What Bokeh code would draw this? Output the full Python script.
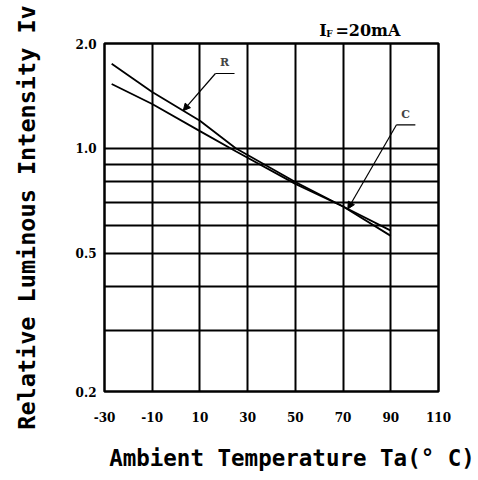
import numpy as np
from bokeh.plotting import figure
from bokeh.models import (Range1d, FixedTicker, Label, Arrow, NormalHead,
                          LinearAxis)
from bokeh.embed import file_html
from bokeh.resources import INLINE

# ---- data ----
temps = [-27, -10, 10, 25, 50, 70, 90]
iv_R = [1.75, 1.45, 1.20, 1.00, 0.80, 0.68, 0.56]
iv_C = [1.53, 1.34, 1.12, 0.98, 0.79, 0.68, 0.58]

x_ticks = [-30, -10, 10, 30, 50, 70, 90, 110]
x_tick_labels = ["-30", "-10", "10", "30", "50", "70", "90", "110"]
y_ticks = [0.2, 0.5, 1.0, 2.0]
y_tick_labels = ["0.2", "0.5", "1.0", "2.0"]
y_grid = [0.3, 0.4, 0.5, 0.6, 0.7, 0.8, 0.9, 1.0]
x_grid = [-10, 10, 30, 50, 70, 90]

x_title = "Ambient Temperature Ta(° C)"
y_title = "Relative Luminous Intensity Iv"
cond_main = ["I", "=20mA"]
cond_sub = "F"

R_point_temp = 3
C_point_temp = 72

FONT = "DejaVu Sans Mono"
TICKFONT = "DejaVu Serif"

p = figure(width=478, height=480, title=None,
           x_range=Range1d(-30, 110), y_range=Range1d(0.2, 2.0),
           y_axis_type="log", output_backend="svg", toolbar_location=None,
           min_border_left=104, min_border_right=40,
           min_border_top=43, min_border_bottom=89)
p.background_fill_color = "white"
p.border_fill_color = "white"
p.outline_line_color = "black"
p.outline_line_width = 2.5


def style(ax, font, size, standoff):
    ax.axis_line_color = None
    ax.major_tick_line_color = None
    ax.minor_tick_line_color = None
    ax.major_tick_out = 0
    ax.major_tick_in = 0
    ax.major_label_text_font = font
    ax.major_label_text_font_style = "bold"
    ax.major_label_text_font_size = size
    ax.major_label_text_color = "black"
    ax.major_label_standoff = standoff


style(p.xaxis[0], TICKFONT, "12px", 20)
p.xaxis[0].ticker = FixedTicker(ticks=x_ticks)
p.xaxis[0].major_label_overrides = dict(zip(x_ticks, x_tick_labels))

style(p.yaxis[0], TICKFONT, "12px", 8)
p.yaxis[0].ticker = FixedTicker(ticks=y_ticks)
p.yaxis[0].major_label_overrides = dict(zip(y_ticks, y_tick_labels))
p.yaxis[0].axis_label = y_title
p.yaxis[0].axis_label_text_font = FONT
p.yaxis[0].axis_label_text_font_style = "bold"
p.yaxis[0].axis_label_text_font_size = "23.5px"
p.yaxis[0].axis_label_text_color = "black"
p.yaxis[0].axis_label_standoff = 32

# x-axis title as a single-tick axis so it sits where the original has it
x_title_pos = 48.6
xt = LinearAxis(ticker=FixedTicker(ticks=[x_title_pos]),
                major_label_overrides={x_title_pos: x_title})
style(xt, FONT, "22.5px", 20)
p.add_layout(xt, "below")

# test condition "I_F = 20mA" above the frame
sub_pos = 64.3
main_pos = [61.6, 80.4]
ca = LinearAxis(ticker=FixedTicker(ticks=[sub_pos]),
                major_label_overrides={sub_pos: cond_sub})
style(ca, TICKFONT, "9px", 5)
p.add_layout(ca, "above")
cb = LinearAxis(ticker=FixedTicker(ticks=main_pos),
                major_label_overrides=dict(zip(main_pos, cond_main)))
style(cb, TICKFONT, "16px", -14)
p.add_layout(cb, "above")

p.xgrid[0].ticker = FixedTicker(ticks=x_grid)
p.ygrid[0].ticker = FixedTicker(ticks=y_grid)
p.grid.grid_line_color = "black"
p.grid.grid_line_width = 2
p.grid.grid_line_alpha = 1.0

p.line(temps, iv_R, line_color="black", line_width=1.8)
p.line(temps, iv_C, line_color="black", line_width=1.8)

logR = np.log10(iv_R)
logC = np.log10(iv_C)
tipR_y = 10 ** np.interp(R_point_temp, temps, logR)
tipC_y = 10 ** np.interp(C_point_temp, temps, logC)

# leader for R
p.line([16.5, 24.5], [1.64, 1.64], line_color="black", line_width=1.2)
p.add_layout(Arrow(end=NormalHead(size=7, fill_color="black", line_color="black"),
                   x_start=16.5, y_start=1.64, x_end=R_point_temp, y_end=tipR_y,
                   line_color="black", line_width=1.2))
p.add_layout(Label(x=20.3, y=1.764, text="R", text_font=TICKFONT, text_font_style="bold",
                   text_font_size="11px", text_align="center", text_baseline="middle"))

# leader for C
p.line([92.4, 100.3], [1.168, 1.168], line_color="black", line_width=1.2)
p.add_layout(Arrow(end=NormalHead(size=7, fill_color="black", line_color="black"),
                   x_start=92.4, y_start=1.168, x_end=C_point_temp, y_end=tipC_y,
                   line_color="black", line_width=1.2))
p.add_layout(Label(x=96.2, y=1.254, text="C", text_font=TICKFONT, text_font_style="bold",
                   text_font_size="11px", text_align="center", text_baseline="middle"))

open("out.html", "w").write(file_html(p, INLINE))
